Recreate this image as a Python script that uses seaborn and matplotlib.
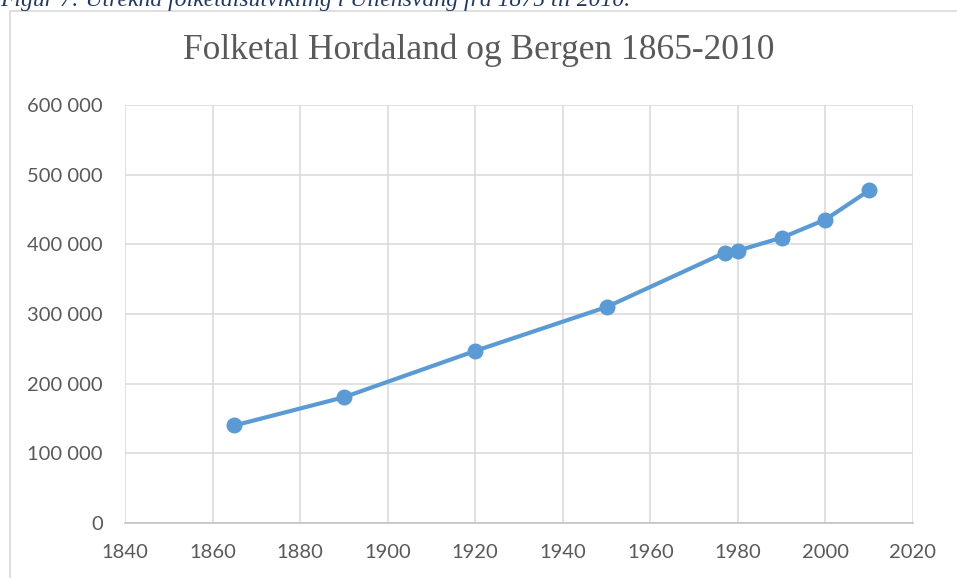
import pandas as pd
import seaborn as sns
import matplotlib.pyplot as plt
from matplotlib.patches import Rectangle
from matplotlib.ticker import FuncFormatter, MultipleLocator

sns.set_style('white')
plt.rcParams['font.family'] = ['Lato', 'DejaVu Sans']

# Data
years = [1865, 1890, 1920, 1950, 1977, 1980, 1990, 2000, 2010]
population = [140000, 180500, 247000, 310000, 388000, 391000, 409500, 435500, 477500]

df = pd.DataFrame({'year': years, 'folketal': population})

fig = plt.figure(figsize=(9.57, 5.78), dpi=100)
ax = fig.add_axes([0.1306, 0.0952, 0.954 - 0.1306, 0.8183 - 0.0952])

# chart frame (Excel-style), partly cut by the page
fig.patches.append(Rectangle((10 / 957, -0.05), 1.0, 1 - 11 / 578 + 0.05,
                             transform=fig.transFigure, fill=False,
                             edgecolor='#d9d9d9', linewidth=1.2))

# caption above the chart, cut off at the top like in the source page
fig.text(0.0, 1 - 6 / 578, 'Figur 7: Utrekna folketalsutvikling i Ullensvang frå 1875 til 2010.',
         family='Liberation Serif', style='italic', fontsize=17, color='#1f3864',
         ha='left', va='baseline')

sns.lineplot(data=df, x='year', y='folketal', ax=ax, color='#5b9bd5',
             linewidth=3, marker='o', markersize=11.5, markeredgewidth=0)

ax.set_xlim(1840, 2020)
ax.set_ylim(0, 600000)
ax.xaxis.set_major_locator(MultipleLocator(20))
ax.yaxis.set_major_locator(MultipleLocator(100000))
ax.yaxis.set_major_formatter(FuncFormatter(lambda v, p: f'{int(v):,}'.replace(',', ' ')))

ax.grid(True, color='#d9d9d9', linewidth=1.1)
ax.set_axisbelow(True)
for s in ['left', 'right', 'top']:
    ax.spines[s].set_visible(False)
ax.spines['bottom'].set_color('#bfbfbf')
ax.spines['bottom'].set_linewidth(1.1)

ax.tick_params(axis='both', length=0, labelsize=14.5, labelcolor='#595959')
ax.tick_params(axis='x', pad=15)
ax.tick_params(axis='y', pad=16)
ax.set_xlabel('')
ax.set_ylabel('')

fig.text(0.5, 1 - 50 / 578, 'Folketal Hordaland og Bergen 1865-2010',
         family='Liberation Serif', fontsize=25.5, color='#595959',
         ha='center', va='center')

fig.savefig('out.png', dpi=100)
